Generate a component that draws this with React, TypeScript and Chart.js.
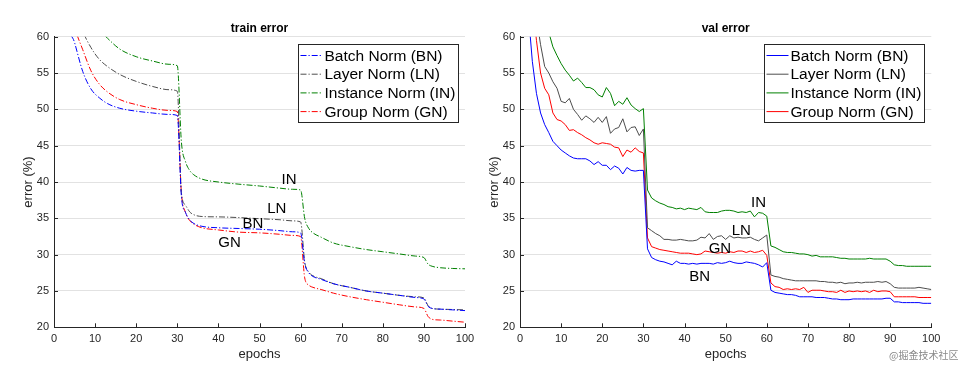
import React, { useEffect, useRef } from 'react';
import { Chart, registerables } from 'chart.js';

Chart.register(...registerables);

const FONT = "'Liberation Sans', Arial, Helvetica, sans-serif";

const seriesNames = ['Batch Norm (BN)', 'Layer Norm (LN)', 'Instance Norm (IN)', 'Group Norm (GN)'];
const seriesColors = ['#0000ff', '#4d4d4d', '#008000', '#ff0000'];

const xTickValues = [0, 10, 20, 30, 40, 50, 60, 70, 80, 90, 100];
const yTickValues = [20, 25, 30, 35, 40, 45, 50, 55, 60];

// ---- train error (smooth curves, sampled at these epochs) ----
const trainEpochs = [1, 3, 5, 7, 9, 11, 13, 16, 20, 24, 28, 30, 31, 32, 33, 34, 36, 40, 45, 50, 55, 58, 60, 61, 62, 63, 65, 68, 72, 76, 80, 84, 88, 90, 91, 92, 94, 97, 100];
const trainBN = [80, 63, 59.2, 55.2, 52.8, 51.6, 50.8, 50.15, 49.75, 49.5, 49.3, 49.15, 38.0, 35.8, 34.8, 34.3, 33.9, 33.7, 33.6, 33.5, 33.3, 33.15, 33.0, 28.8, 27.5, 27.0, 26.6, 26.0, 25.5, 25.0, 24.7, 24.4, 24.1, 23.9, 22.9, 22.6, 22.5, 22.4, 22.3];
const trainLN = [80, 70, 64.5, 60.8, 58.5, 56.9, 55.9, 54.8, 53.85, 53.15, 52.7, 52.5, 38.5, 36.8, 35.9, 35.5, 35.25, 35.2, 35.1, 34.95, 34.8, 34.65, 34.5, 29.0, 27.6, 27.1, 26.7, 26.0, 25.5, 25.0, 24.7, 24.4, 24.2, 24.05, 23.0, 22.6, 22.5, 22.45, 22.4];
const trainIN = [82, 76, 70, 66, 63, 61, 59.8, 58.3, 57.25, 56.65, 56.2, 56.0, 45.5, 42.8, 41.6, 41.0, 40.4, 40.0, 39.7, 39.45, 39.15, 39.0, 38.9, 35.0, 33.6, 33.0, 32.4, 31.6, 31.1, 30.7, 30.4, 30.1, 29.8, 29.6, 28.7, 28.4, 28.2, 28.1, 28.05];
const trainGN = [80, 66, 61.3, 58.2, 55.3, 53.5, 52.4, 51.35, 50.65, 50.15, 49.85, 49.7, 38.5, 35.8, 34.7, 34.2, 33.7, 33.4, 33.1, 33.0, 32.8, 32.65, 32.5, 26.8, 25.8, 25.5, 25.2, 24.7, 24.2, 23.8, 23.45, 23.1, 22.8, 22.6, 21.5, 21.1, 21.0, 20.85, 20.7];

// ---- val error (one value per epoch 1..100) ----
const valEpochs = Array.from({ length: 100 }, (_, i) => i + 1);
const valBN = [
  72, 63.4, 56.6, 52.2, 49.5, 47.9, 46.8, 45.6, 45.0, 44.4, 44.0, 43.6, 43.3, 43.2, 43.2, 43.2, 42.9, 42.4, 42.8, 42.3, 42.3, 41.7, 42.2, 41.9, 41.1, 42.0, 41.6, 41.5, 41.6, 41.6,
  30.8, 29.6, 29.3, 29.1, 29.0, 28.8, 28.6, 29.1, 28.8, 28.8, 28.7, 28.8, 28.7, 28.8, 28.8, 28.8, 28.7, 28.9, 28.8, 28.9, 29.1, 28.9, 28.8, 28.8, 29.0, 28.9, 28.8, 28.6, 28.3, 28.9,
  25.1, 24.8, 24.7, 24.6, 24.5, 24.5, 24.4, 24.2, 24.2, 24.2, 24.2, 24.1, 24.1, 24.1, 24.0, 23.9, 23.9, 23.8, 23.8, 23.8, 23.9, 23.9, 23.9, 23.9, 23.9, 23.9, 23.9, 23.9, 24.0, 24.0,
  23.5, 23.5, 23.4, 23.4, 23.4, 23.4, 23.4, 23.3, 23.3, 23.3,
];
const valLN = [
  90, 80, 70, 62.6, 58.9, 55.9, 55.0, 53.8, 52.9, 51.1, 50.9, 51.5, 50.0, 49.3, 48.5, 49.1, 48.7, 48.2, 48.9, 48.2, 49.0, 46.7, 47.3, 47.5, 48.7, 46.9, 47.5, 47.6, 46.4, 47.3,
  33.7, 33.3, 32.9, 32.6, 32.1, 32.1, 32.0, 32.0, 32.1, 32.0, 31.9, 31.9, 32.0, 32.4, 32.3, 32.9, 32.1, 32.5, 32.6, 32.1, 32.6, 32.3, 32.4, 32.3, 32.3, 32.4, 32.1, 31.9, 32.3, 32.7,
  27.2, 27.0, 26.9, 26.7, 26.6, 26.5, 26.4, 26.4, 26.4, 26.4, 26.4, 26.4, 26.3, 26.3, 26.2, 26.2, 26.1, 26.2, 26.0, 26.1, 26.1, 26.2, 26.1, 26.2, 26.2, 26.2, 26.3, 26.2, 26.3, 26.0,
  25.5, 25.4, 25.4, 25.4, 25.4, 25.4, 25.5, 25.4, 25.3, 25.2,
];
const valIN = [
  95, 88, 82, 76, 70, 65, 60.6, 58.6, 57.4, 56.3, 55.4, 54.7, 53.9, 54.3, 53.7, 53.0, 53.0, 52.7, 52.0, 51.7, 53.0, 52.2, 50.5, 51.1, 50.7, 51.6, 50.6, 50.1, 49.7, 50.1,
  38.9, 37.8, 37.4, 37.1, 36.9, 36.6, 36.5, 36.3, 36.4, 36.2, 36.4, 36.3, 36.2, 36.5, 35.9, 35.8, 35.8, 35.8, 36.0, 36.1, 36.1, 36.0, 35.8, 35.9, 35.8, 36.0, 35.2, 35.8, 35.7, 35.3,
  31.2, 31.0, 30.7, 30.4, 30.3, 30.3, 30.2, 30.1, 30.1, 30.0, 29.8, 29.9, 29.7, 29.7, 29.7, 29.7, 29.6, 29.5, 29.5, 29.4, 29.4, 29.4, 29.4, 29.4, 29.5, 29.4, 29.4, 29.4, 29.4, 29.1,
  28.6, 28.5, 28.5, 28.4, 28.4, 28.4, 28.4, 28.4, 28.4, 28.4,
];
const valGN = [
  85, 74, 65, 59.5, 55.0, 52.9, 52.0, 49.5, 48.6, 48.4, 47.9, 47.1, 47.2, 46.8, 46.5, 46.1, 45.8, 45.4, 45.2, 45.4, 45.3, 45.2, 44.8, 44.7, 43.5, 44.4, 44.1, 44.7, 44.2, 44.0,
  32.3, 31.1, 30.9, 30.7, 30.6, 30.5, 30.4, 30.3, 30.2, 30.2, 30.2, 30.1, 30.0, 30.1, 30.5, 30.4, 30.3, 30.2, 30.3, 30.2, 30.4, 30.3, 30.5, 30.5, 30.3, 30.5, 30.3, 30.4, 30.6, 29.9,
  26.1, 25.6, 25.5, 25.2, 25.3, 25.2, 25.3, 25.2, 25.5, 24.8, 25.1, 25.1, 25.1, 25.0, 24.9, 24.9, 24.8, 25.1, 24.8, 25.0, 24.9, 25.0, 24.9, 25.0, 24.8, 25.1, 24.9, 25.0, 25.0, 24.9,
  24.2, 24.2, 24.2, 24.2, 24.2, 24.2, 24.1, 24.1, 24.1, 24.1,
];

// in-plot text annotations (data coordinates)
const trainNotes = [
  { text: 'IN', x: 57.2, y: 40.3 },
  { text: 'LN', x: 54.2, y: 36.25 },
  { text: 'BN', x: 48.4, y: 34.2 },
  { text: 'GN', x: 42.7, y: 31.6 },
];
const valNotes = [
  { text: 'IN', x: 58.0, y: 37.1 },
  { text: 'LN', x: 53.8, y: 33.3 },
  { text: 'GN', x: 48.6, y: 30.75 },
  { text: 'BN', x: 43.7, y: 26.95 },
];

const DASH_DOT = [6, 2, 1.2, 2];
const AXIS_COLOR = '#262626';

const decorPlugin = {
  id: 'decor',
  afterDraw(chart: any, _args: any, opts: any) {
    const { ctx, chartArea: ca } = chart;
    const x = chart.scales.x;
    const y = chart.scales.y;
    ctx.save();
    // inward tick marks
    ctx.strokeStyle = AXIS_COLOR;
    ctx.lineWidth = 1;
    ctx.setLineDash([]);
    ctx.beginPath();
    x.ticks.forEach((t: any) => {
      const px = Math.round(x.getPixelForValue(t.value)) + 0.5;
      ctx.moveTo(px, ca.bottom);
      ctx.lineTo(px, ca.bottom - 4);
    });
    y.ticks.forEach((t: any) => {
      const py = Math.round(y.getPixelForValue(t.value)) + 0.5;
      ctx.moveTo(ca.left, py);
      ctx.lineTo(ca.left + 4, py);
    });
    ctx.stroke();

    // title
    ctx.fillStyle = '#000';
    ctx.font = `bold 12px ${FONT}`;
    ctx.textAlign = 'center';
    ctx.textBaseline = 'middle';
    ctx.fillText(opts.title, (ca.left + ca.right) / 2, ca.top - 8);

    // annotations
    ctx.font = `15px ${FONT}`;
    (opts.notes || []).forEach((n: any) => {
      ctx.fillText(n.text, x.getPixelForValue(n.x), y.getPixelForValue(n.y));
    });

    // legend box
    const bw = 160;
    const bh = 78;
    const bx = Math.round(ca.right - 7 - bw) + 0.5;
    const by = Math.round(ca.top + 7) + 0.5;
    ctx.fillStyle = '#ffffff';
    ctx.fillRect(bx, by, bw, bh);
    ctx.strokeStyle = AXIS_COLOR;
    ctx.lineWidth = 1;
    ctx.strokeRect(bx, by, bw, bh);
    ctx.font = `15.5px ${FONT}`;
    ctx.textAlign = 'left';
    chart.data.datasets.forEach((ds: any, i: number) => {
      const cy = by + 11 + i * 18.7;
      ctx.strokeStyle = ds.borderColor;
      ctx.lineWidth = 1;
      ctx.setLineDash(opts.dashed ? DASH_DOT : []);
      ctx.beginPath();
      ctx.moveTo(bx + 2, cy);
      ctx.lineTo(bx + 24, cy);
      ctx.stroke();
      ctx.setLineDash([]);
      ctx.fillStyle = '#000';
      ctx.fillText(ds.label, bx + 26, cy + 1);
    });
    ctx.restore();
  },
};

function buildConfig(kind: 'train' | 'val') {
  const isTrain = kind === 'train';
  const epochs = isTrain ? trainEpochs : valEpochs;
  const series = isTrain ? [trainBN, trainLN, trainIN, trainGN] : [valBN, valLN, valIN, valGN];
  const datasets = series.map((vals, i) => ({
    label: seriesNames[i],
    data: vals.map((v, j) => ({ x: epochs[j], y: v })),
    borderColor: seriesColors[i],
    backgroundColor: seriesColors[i],
    borderWidth: 1,
    borderDash: isTrain ? DASH_DOT : [],
    pointRadius: 0,
    tension: 0,
    cubicInterpolationMode: isTrain ? 'monotone' : 'default',
    fill: false,
  }));
  return {
    type: 'line',
    data: { datasets },
    plugins: [decorPlugin],
    options: {
      animation: false,
      responsive: false,
      devicePixelRatio: 1,
      layout: {
        padding: isTrain
          ? { left: 21, right: 17, top: 36.7, bottom: 0 }
          : { left: 5, right: 32.7, top: 36.7, bottom: 0 },
      },
      plugins: {
        legend: { display: false },
        title: { display: false },
        tooltip: { enabled: false },
        decor: {
          title: isTrain ? 'train error' : 'val error',
          notes: isTrain ? trainNotes : valNotes,
          dashed: isTrain,
        },
      },
      scales: {
        x: {
          type: 'linear',
          min: 0,
          max: 100,
          afterBuildTicks: (s: any) => {
            s.ticks = xTickValues.map((v) => ({ value: v }));
          },
          afterFit: (s: any) => {
            s.height = 38.7;
          },
          grid: { display: false, drawTicks: false },
          border: { display: true, color: AXIS_COLOR, width: 1 },
          ticks: {
            color: AXIS_COLOR,
            font: { family: FONT, size: 11 },
            padding: 5,
            maxRotation: 0,
            autoSkip: false,
          },
          title: {
            display: true,
            text: 'epochs',
            color: AXIS_COLOR,
            font: { family: FONT, size: 13 },
            padding: { top: 0, bottom: 4 },
          },
        },
        y: {
          type: 'linear',
          min: 20,
          max: 60,
          afterBuildTicks: (s: any) => {
            s.ticks = yTickValues.map((v) => ({ value: v }));
          },
          afterFit: (s: any) => {
            s.width = 33;
          },
          grid: { color: '#e2e2e2', lineWidth: 1, drawTicks: false },
          border: { display: true, color: AXIS_COLOR, width: 1 },
          ticks: {
            color: AXIS_COLOR,
            font: { family: FONT, size: 11 },
            padding: 5,
            autoSkip: false,
          },
          title: {
            display: true,
            text: 'error (%)',
            color: AXIS_COLOR,
            font: { family: FONT, size: 13 },
            padding: { top: 0, bottom: 0 },
          },
        },
      },
    },
  };
}

export default function App() {
  const leftRef = useRef<HTMLCanvasElement | null>(null);
  const rightRef = useRef<HTMLCanvasElement | null>(null);

  useEffect(() => {
    const c1 = new Chart(leftRef.current as HTMLCanvasElement, buildConfig('train') as any);
    const c2 = new Chart(rightRef.current as HTMLCanvasElement, buildConfig('val') as any);
    return () => {
      c1.destroy();
      c2.destroy();
    };
  }, []);

  return (
    <div
      style={{
        position: 'absolute',
        left: 0,
        top: 0,
        width: 964,
        height: 366,
        background: '#ffffff',
        overflow: 'hidden',
      }}
    >
      <canvas
        ref={leftRef}
        width={482}
        height={366}
        style={{ position: 'absolute', left: 0, top: 0, width: 482, height: 366 }}
      />
      <canvas
        ref={rightRef}
        width={482}
        height={366}
        style={{ position: 'absolute', left: 482, top: 0, width: 482, height: 366 }}
      />
      <div
        style={{
          position: 'absolute',
          left: 889,
          top: 348,
          fontFamily: "'Noto Sans CJK SC', sans-serif",
          fontSize: 10,
          lineHeight: '14px',
          color: '#8a8a8a',
          whiteSpace: 'nowrap',
        }}
      >
        @掘金技术社区
      </div>
    </div>
  );
}
